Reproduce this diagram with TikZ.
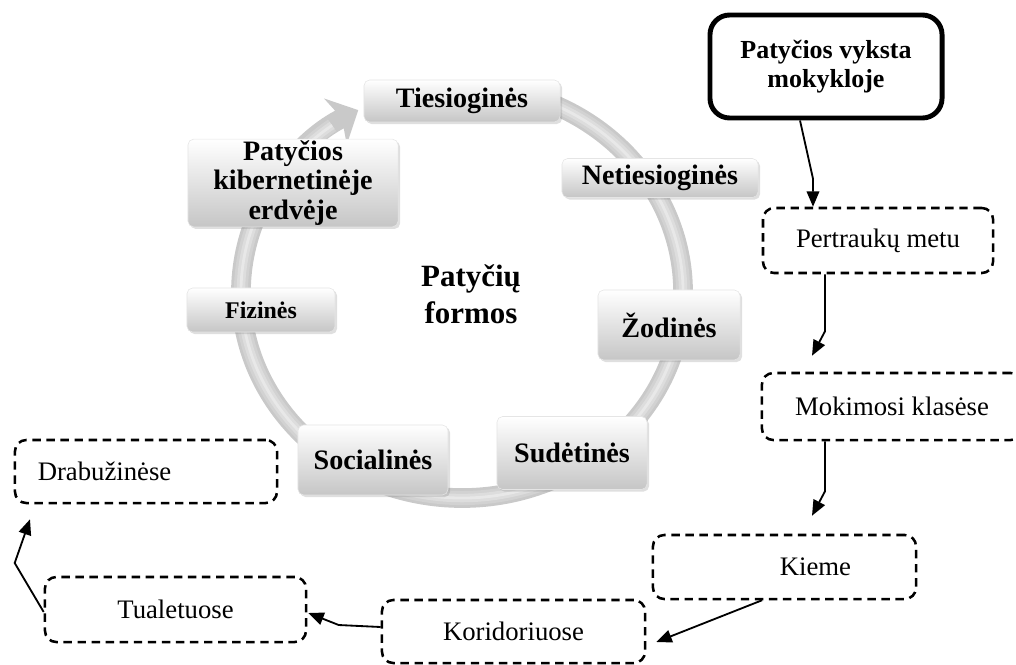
\documentclass[tikz,border=0pt]{standalone}
\usepackage{fontspec}
\setmainfont{Liberation Serif}
\usetikzlibrary{arrows.meta, positioning, calc, shadows}

\tikzset{
  form/.style={rounded corners=4pt, top color=white, bottom color=gray!45, draw=gray!20,
    drop shadow={opacity=0.25, shadow xshift=1.5pt, shadow yshift=-1.5pt},
    align=center, inner sep=1pt, font=\bfseries\fontsize{20}{19}\selectfont},
  place/.style={draw, line width=1.8pt, dash pattern=on 6pt off 4pt, rounded corners=8pt,
    align=center, font=\fontsize{19}{22}\selectfont},
  conn/.style={line width=1.3pt, -{Triangle[length=11pt,width=9pt]}},
}

\begin{document}
\begin{tikzpicture}[x=0.025cm, y=-0.025cm]
\useasboundingbox (0,0) rectangle (1016,664);

% Cycle ring
\draw[line width=14pt, gray!42, -{Stealth[length=18pt,width=36pt,inset=5pt]}]
  (462,292) ++(-77:221 and 206) arc[start angle=-77, end angle=242, x radius=221, y radius=206];
\foreach \w/\c in {10/35, 6/27, 2/18}
  \draw[line width=\w pt, gray!\c]
    (462,292) ++(-77:221 and 206) arc[start angle=-77, end angle=234, x radius=221, y radius=206];

% Forms
\node[form, minimum width=4.9cm, minimum height=1.05cm] (ties) at (462,101) {Tiesioginės};
\node[form, minimum width=4.9cm, minimum height=0.975cm] (neties) at (660,178) {Netiesioginės};
\node[form, minimum width=3.55cm, minimum height=1.75cm] (zod) at (669,325) {Žodinės};
\node[form, minimum width=3.75cm, minimum height=1.825cm] (sud) at (572,453) {Sudėtinės};
\node[form, minimum width=3.75cm, minimum height=1.75cm] (soc) at (373,460) {Socialinės};
\node[form, minimum width=3.7cm, minimum height=1.1cm, font=\bfseries\fontsize{17}{17}\selectfont] (fiz) at (261,310) {Fizinės};
\node[form, minimum width=5.25cm, minimum height=1.925cm, font=\bfseries\fontsize{20}{21}\selectfont] (kib) at (293,183) {Patyčios\\kibernetinėje\\erdvėje};
\node[font=\bfseries\fontsize{22}{26}\selectfont, align=center] (title) at (471,294) {Patyčių\\formos};

% Places
\node[draw, line width=3.5pt, rounded corners=14pt, minimum width=5.8cm, minimum height=2.575cm,
  align=center, font=\bfseries\fontsize{18.5}{21}\selectfont] (school) at (826,66.5) {Patyčios vyksta\\mokykloje};
\node[place, minimum width=5.75cm, minimum height=1.625cm] (pert) at (878,240.5) {Pertraukų metu};
\node[place, minimum width=6.5cm, minimum height=1.675cm] (mok) at (892,406.5) {Mokimosi klasėse};
\node[place, minimum width=6.575cm, minimum height=1.6cm] (kieme) at (784.5,567) {\hspace*{44pt}Kieme};
\node[place, minimum width=6.575cm, minimum height=1.575cm] (kor) at (513.5,631.5) {Koridoriuose};
\node[place, minimum width=6.525cm, minimum height=1.625cm] (tual) at (175.5,609.5) {Tualetuose};
\node[place, minimum width=6.55cm, minimum height=1.575cm] (drab) at (146,471.5) {Drabužinėse\hspace*{59pt}};

% Connectors
\draw[conn] ($(school.south)+(-26,0)$) -- ($(pert.north)+(-65,-28)$) -- ($(pert.north)+(-65,0)$);
\draw[conn] ($(pert.south)+(-53,0)$) -- ($(pert.south)+(-53,57)$) -- ($(mok.north)+(-80,-16)$);
\draw[conn] ($(mok.south)+(-67,0)$) -- ($(mok.south)+(-67,50)$) -- ($(kieme.north)+(27.5,-18)$);
\draw[conn] ($(kieme.south)+(-22.5,0)$) -- ($(kor.east)+(10,10.5)$);
\draw[conn] ($(kor.west)+(0,-4.5)$) -- ($(kor.west)+(-42,-6.5)$) -- ($(tual.east)+(1,3.5)$);
\draw[conn] ($(tual.west)+(0,2.5)$) -- ($(tual.west)+(-29,-46.5)$) -- ($(drab.south)+(-116,15)$);
\end{tikzpicture}
\end{document}
